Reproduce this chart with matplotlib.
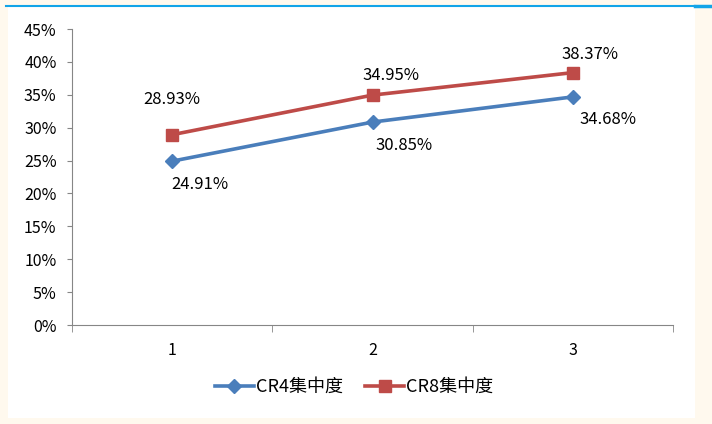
import matplotlib.pyplot as plt
from matplotlib.patches import Rectangle
from matplotlib.ticker import FuncFormatter

plt.rcParams['font.family'] = ['Noto Sans CJK SC', 'DejaVu Sans']

cats = [1, 2, 3]
cr4 = [24.91, 30.85, 34.68]
cr8 = [28.93, 34.95, 38.37]
names = ['CR4集中度', 'CR8集中度']
# label offsets (points) for each point
off4 = [(20, -17), (23, -17), (25, -16)]
off8 = [(0, 25), (13, 14), (12, 13)]

fig = plt.figure(figsize=(7.12, 4.24), dpi=100)
fig.patch.set_facecolor('#fff9ee')
# white panel and blue rule at the top
fig.patches.append(Rectangle((8/712, 1-418/424), 687/712, 411/424,
                             transform=fig.transFigure, facecolor='white', edgecolor='none', zorder=-5))
fig.lines.append(plt.Line2D([6/712, 695/712], [1-6/424, 1-6/424], transform=fig.transFigure,
                            color='#12a4e8', lw=1.5))
fig.lines.append(plt.Line2D([695/712, 1], [1-6/424, 1-6/424], transform=fig.transFigure,
                            color='#12a4e8', lw=2.5))

ax = fig.add_axes([72/712, 1-325/424, 601/712, 296/424])
ax.set_facecolor('none')

l4, = ax.plot(cats, cr4, color='#4a7ebb', lw=2.6, marker='D', ms=7.5, label=names[0])
l8, = ax.plot(cats, cr8, color='#be4b48', lw=2.6, marker='s', ms=9, label=names[1])

for x, v, o in zip(cats, cr4, off4):
    ax.annotate(f'{v:.2f}%', (x, v), xytext=o, textcoords='offset points',
                ha='center', va='center', fontsize=12)
for x, v, o in zip(cats, cr8, off8):
    ax.annotate(f'{v:.2f}%', (x, v), xytext=o, textcoords='offset points',
                ha='center', va='center', fontsize=12)

ax.set_xlim(0.5, 3.5)
ax.set_ylim(0, 45)
ax.set_yticks(range(0, 46, 5))
ax.yaxis.set_major_formatter(FuncFormatter(lambda v, p: f'{v:.0f}%'))
ax.set_xticks(cats)
ax.set_xticks([0.5, 1.5, 2.5, 3.5], minor=True)
ax.tick_params(axis='x', which='major', length=0, pad=12, labelsize=11.5)
ax.tick_params(axis='x', which='minor', length=5, color='#868686')
ax.tick_params(axis='y', length=3.6, color='#868686', labelsize=11.5, pad=7.5)
for s in ['top', 'right']:
    ax.spines[s].set_visible(False)
for s in ['left', 'bottom']:
    ax.spines[s].set_color('#868686')

fig.legend(handles=[l4, l8], loc='center', bbox_to_anchor=(354/712, 1-387/424), ncol=2,
           frameon=False, fontsize=13, handlelength=2.2, handletextpad=0.1, columnspacing=1.2)

fig.savefig('out.png', dpi=100, facecolor=fig.get_facecolor())
